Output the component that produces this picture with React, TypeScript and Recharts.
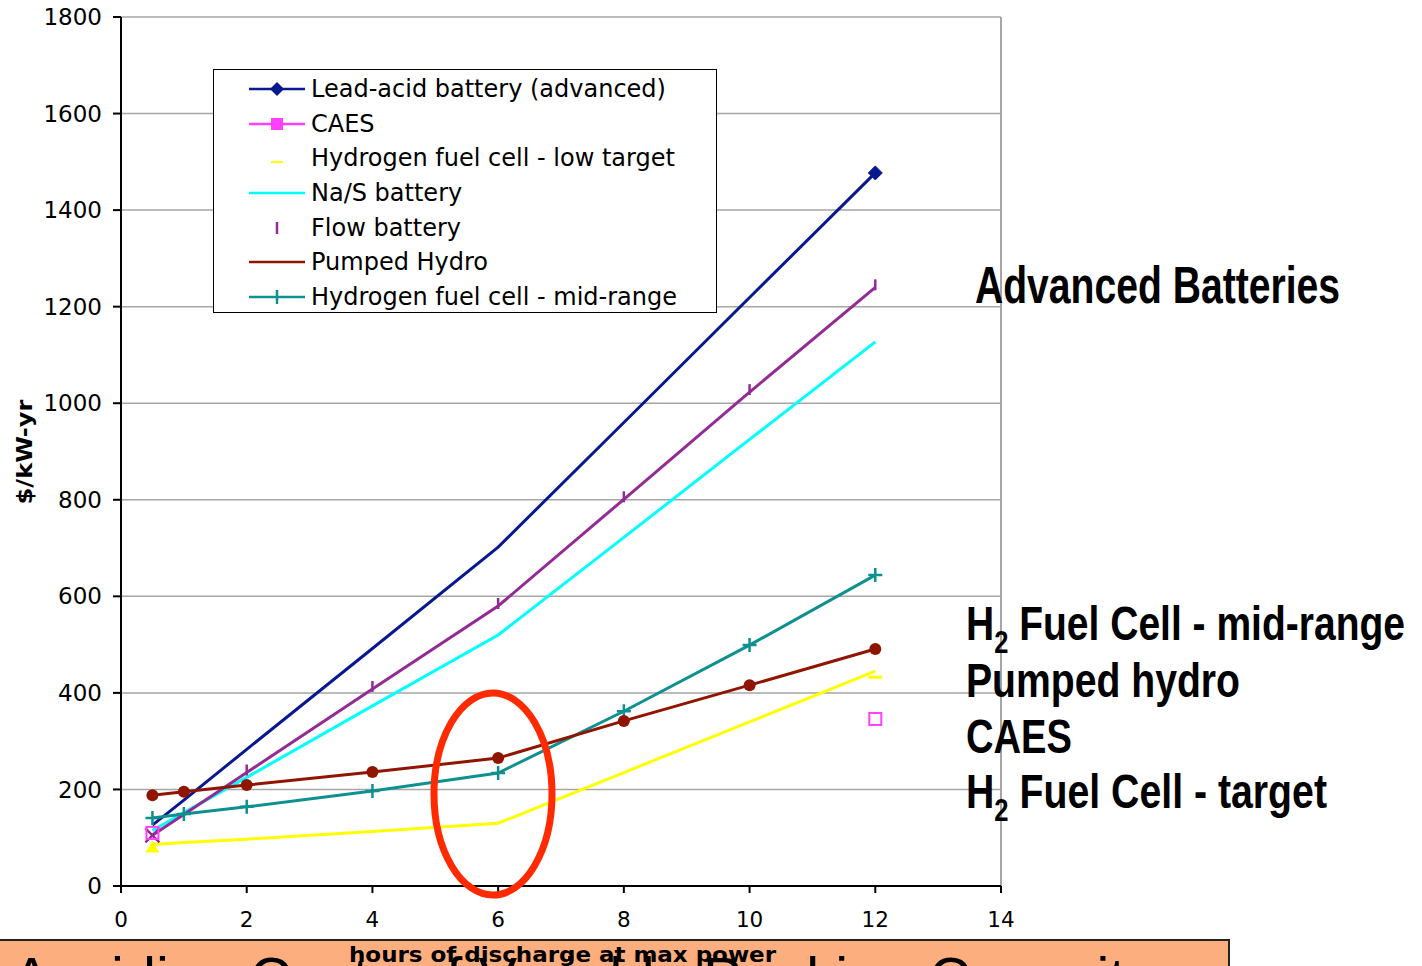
import React from "react";
import {
  LineChart,
  Line,
  XAxis,
  YAxis,
  CartesianGrid,
  Legend,
  ReferenceLine,
} from "recharts";

// hours of discharge at max power
const hours = [0.5, 1, 2, 4, 6, 8, 10, 12];

// $/kW-yr per technology
const leadAcid = [126, 178, 283, 492, 702, 960, 1219, 1477];
const caes = [110, null, null, null, null, null, null, 346];
const h2Low = [86, 90, 97, 113, 130, 235, 340, 445];
const naS = [115, 152, 225, 373, 520, 722, 925, 1127];
const flow = [105, 148, 235, 408, 580, 801, 1023, 1240];
const pumpedHydro = [188, 195, 209, 236, 265, 342, 416, 491];
const h2Mid = [141, 149, 164, 197, 234, 362, 499, 644];

const xTicks = [0, 2, 4, 6, 8, 10, 12, 14];
const yTicks = [0, 200, 400, 600, 800, 1000, 1200, 1400, 1600, 1800];

const seriesNames = [
  "Lead-acid battery (advanced)",
  "CAES",
  "Hydrogen fuel cell - low target",
  "Na/S battery",
  "Flow battery",
  "Pumped Hydro",
  "Hydrogen fuel cell - mid-range",
];

const C = {
  lead: "#08188f",
  caes: "#ff40ff",
  h2Low: "#ffff00",
  naS: "#00ffff",
  flow: "#922b93",
  hydro: "#8f1500",
  h2Mid: "#0e9090",
};

const data = hours.map((h, i) => ({
  h,
  lead: leadAcid[i],
  caes: caes[i],
  h2Low: h2Low[i],
  naS: naS[i],
  flow: flow[i],
  hydro: pumpedHydro[i],
  h2Mid: h2Mid[i],
}));

const VERDANA = "'DejaVu Sans', Verdana, sans-serif";
const NARROW = "'Liberation Sans Narrow', 'Liberation Sans', Arial, sans-serif";

const empty = (k: any) => <g key={k} />;

function leadDot(p: any) {
  if (p.cy == null || p.index !== hours.length - 1) return empty(p.key);
  const { cx, cy } = p;
  return (
    <path key={p.key} d={`M${cx},${cy - 7} L${cx + 7},${cy} L${cx},${cy + 7} L${cx - 7},${cy} Z`}
      fill={C.lead} stroke={C.lead} strokeWidth={1} strokeLinejoin="round" />
  );
}

function caesDot(p: any) {
  if (p.cy == null) return empty(p.key);
  return <rect key={p.key} x={p.cx - 6} y={p.cy - 6} width={12} height={12} fill="none" stroke={C.caes} strokeWidth={2} />;
}

function h2LowDot(p: any) {
  if (p.cy == null) return empty(p.key);
  const { cx, cy } = p;
  if (p.index === 0)
    return <path key={p.key} d={`M${cx},${cy - 4} L${cx + 7},${cy + 8} L${cx - 7},${cy + 8} Z`} fill={C.h2Low} />;
  if (p.index === hours.length - 1)
    return <line key={p.key} x1={cx - 7} x2={cx + 7} y1={cy + 6} y2={cy + 6} stroke={C.h2Low} strokeWidth={3} />;
  return empty(p.key);
}

function flowDot(p: any) {
  if (p.cy == null) return empty(p.key);
  const { cx, cy } = p;
  if (p.index === 0)
    return (
      <path key={p.key} d={`M${cx - 7},${cy - 7} L${cx + 7},${cy + 7} M${cx + 7},${cy - 7} L${cx - 7},${cy + 7}`}
        stroke={C.flow} strokeWidth={2.5} />
    );
  if (p.index === 1) return empty(p.key);
  return <line key={p.key} x1={cx} x2={cx} y1={cy - 8} y2={cy + 3} stroke={C.flow} strokeWidth={2.5} />;
}

function hydroDot(p: any) {
  if (p.cy == null) return empty(p.key);
  return <circle key={p.key} cx={p.cx} cy={p.cy} r={6} fill={C.hydro} />;
}

function plusDot(p: any) {
  if (p.cy == null) return empty(p.key);
  const { cx, cy } = p;
  return (
    <path key={p.key} d={`M${cx - 7},${cy} L${cx + 7},${cy} M${cx},${cy - 7} L${cx},${cy + 7}`}
      stroke={C.h2Mid} strokeWidth={2.5} />
  );
}

function LegendSymbol({ i }: { i: number }) {
  const line = (color: string) => <line x1={2} x2={58} y1={12} y2={12} stroke={color} strokeWidth={2.5} />;
  let body: React.ReactNode = null;
  if (i === 0)
    body = (<>{line(C.lead)}<path d="M30,5 L37,12 L30,19 L23,12 Z" fill={C.lead} /></>);
  if (i === 1)
    body = (<>{line(C.caes)}<rect x={24} y={6} width={12} height={12} fill={C.caes} /></>);
  if (i === 2) body = <line x1={24} x2={36} y1={16} y2={16} stroke={C.h2Low} strokeWidth={2} />;
  if (i === 3) body = line(C.naS);
  if (i === 4) body = <line x1={30} x2={30} y1={6} y2={18} stroke={C.flow} strokeWidth={2.5} />;
  if (i === 5) body = line(C.hydro);
  if (i === 6)
    body = (<>{line(C.h2Mid)}<path d="M30,5 L30,19" stroke={C.h2Mid} strokeWidth={2.5} /></>);
  return <svg width={60} height={24} style={{ display: "block" }}>{body}</svg>;
}

function ChartLegend() {
  return (
    <div style={{ border: "1px solid #000", background: "#fff", padding: "2px 0 2px 0", boxSizing: "border-box", height: 244 }}>
      {seriesNames.map((name, i) => (
        <div key={name} style={{ display: "flex", alignItems: "center", height: 34.6 }}>
          <div style={{ marginLeft: 33, marginRight: 4 }}><LegendSymbol i={i} /></div>
          <span style={{ fontFamily: VERDANA, fontSize: 24, color: "#000", whiteSpace: "nowrap" }}>{name}</span>
        </div>
      ))}
    </div>
  );
}

export default function App() {
  return (
    <div style={{ position: "absolute", left: 0, top: 0, width: 1422, height: 966, background: "#fff", overflow: "hidden" }}>
      <LineChart width={1422} height={966} data={data} margin={{ top: 17, right: 421, bottom: 50, left: 61 }}>
        <CartesianGrid vertical={false} stroke="#a6a6a6" strokeWidth={1.5} />
        <ReferenceLine x={14} stroke="#a6a6a6" strokeWidth={2} />
        <XAxis
          dataKey="h"
          type="number"
          domain={[0, 14]}
          ticks={xTicks}
          height={30}
          stroke="#000"
          strokeWidth={2}
          tickSize={7}
          tickMargin={19}
          tick={{ fill: "#000", fontSize: 21.5, fontFamily: VERDANA }}
        />
        <YAxis
          type="number"
          domain={[0, 1800]}
          ticks={yTicks}
          width={60}
          stroke="#000"
          strokeWidth={2}
          tickSize={8}
          tickMargin={11}
          tick={{ fill: "#000", fontSize: 23, fontFamily: VERDANA }}
        />
        <Legend
          layout="vertical"
          align="center"
          verticalAlign="middle"
          content={() => <ChartLegend />}
          wrapperStyle={{ left: 213, top: 69, width: 504, height: 244 }}
        />
        <Line dataKey="naS" name={seriesNames[3]} type="linear" stroke={C.naS} strokeWidth={3} dot={false} isAnimationActive={false} />
        <Line dataKey="h2Low" name={seriesNames[2]} type="linear" stroke={C.h2Low} strokeWidth={3} dot={h2LowDot} isAnimationActive={false} />
        <Line dataKey="lead" name={seriesNames[0]} type="linear" stroke={C.lead} strokeWidth={3} dot={leadDot} isAnimationActive={false} />
        <Line dataKey="flow" name={seriesNames[4]} type="linear" stroke={C.flow} strokeWidth={3} dot={flowDot} isAnimationActive={false} />
        <Line dataKey="h2Mid" name={seriesNames[6]} type="linear" stroke={C.h2Mid} strokeWidth={3} dot={plusDot} isAnimationActive={false} />
        <Line dataKey="hydro" name={seriesNames[5]} type="linear" stroke={C.hydro} strokeWidth={3} dot={hydroDot} isAnimationActive={false} />
        <Line dataKey="caes" name={seriesNames[1]} type="linear" stroke="none" dot={caesDot} isAnimationActive={false} />
      </LineChart>

      <svg width={1422} height={966} style={{ position: "absolute", left: 0, top: 0, pointerEvents: "none" }}>
        {/* highlight ring around 6 hours */}
        <ellipse cx={493} cy={794} rx={59} ry={101} fill="none" stroke="#ff2a00" strokeWidth={7} />

        <text x={24} y={452} transform="rotate(-90 24 452)" textAnchor="middle" dominantBaseline="central"
          fontFamily={VERDANA} fontWeight="bold" fontSize={22} fill="#000" textLength={105}
          lengthAdjust="spacingAndGlyphs">$/kW-yr</text>

        <text x={975} y={303} fontFamily={NARROW} fontWeight="bold" fontSize={52} textLength={365}
          lengthAdjust="spacingAndGlyphs" fill="#000">Advanced Batteries</text>

        <text x={966} y={640} fontFamily={NARROW} fontWeight="bold" fontSize={49} fill="#000" textLength={439} lengthAdjust="spacingAndGlyphs">
          H<tspan fontSize={32} dy={13}>2</tspan><tspan dy={-13}> Fuel Cell - mid-range</tspan>
        </text>
        <text x={966} y={697} fontFamily={NARROW} fontWeight="bold" fontSize={49} fill="#000" textLength={274} lengthAdjust="spacingAndGlyphs">Pumped hydro</text>
        <text x={966} y={753} fontFamily={NARROW} fontWeight="bold" fontSize={49} fill="#000" textLength={106} lengthAdjust="spacingAndGlyphs">CAES</text>
        <text x={966} y={808} fontFamily={NARROW} fontWeight="bold" fontSize={49} fill="#000" textLength={361} lengthAdjust="spacingAndGlyphs">
          H<tspan fontSize={32} dy={13}>2</tspan><tspan dy={-13}> Fuel Cell - target</tspan>
        </text>

        {/* slide banner under the chart */}
        <rect x={-2} y={940} width={1231} height={40} fill="#fdae7e" stroke="#222" strokeWidth={2} />
        <text x={12} y={998} fontFamily={NARROW} fontSize={58} fill="#000">Avoiding Costs of Variable Peaking Capacity</text>

        <text x={349} y={962} fontFamily="'DejaVu Sans Condensed', 'DejaVu Sans', sans-serif" fontWeight="bold" fontSize={21}
          textLength={427} lengthAdjust="spacingAndGlyphs" fill="#000">hours of discharge at max power</text>
      </svg>
    </div>
  );
}
